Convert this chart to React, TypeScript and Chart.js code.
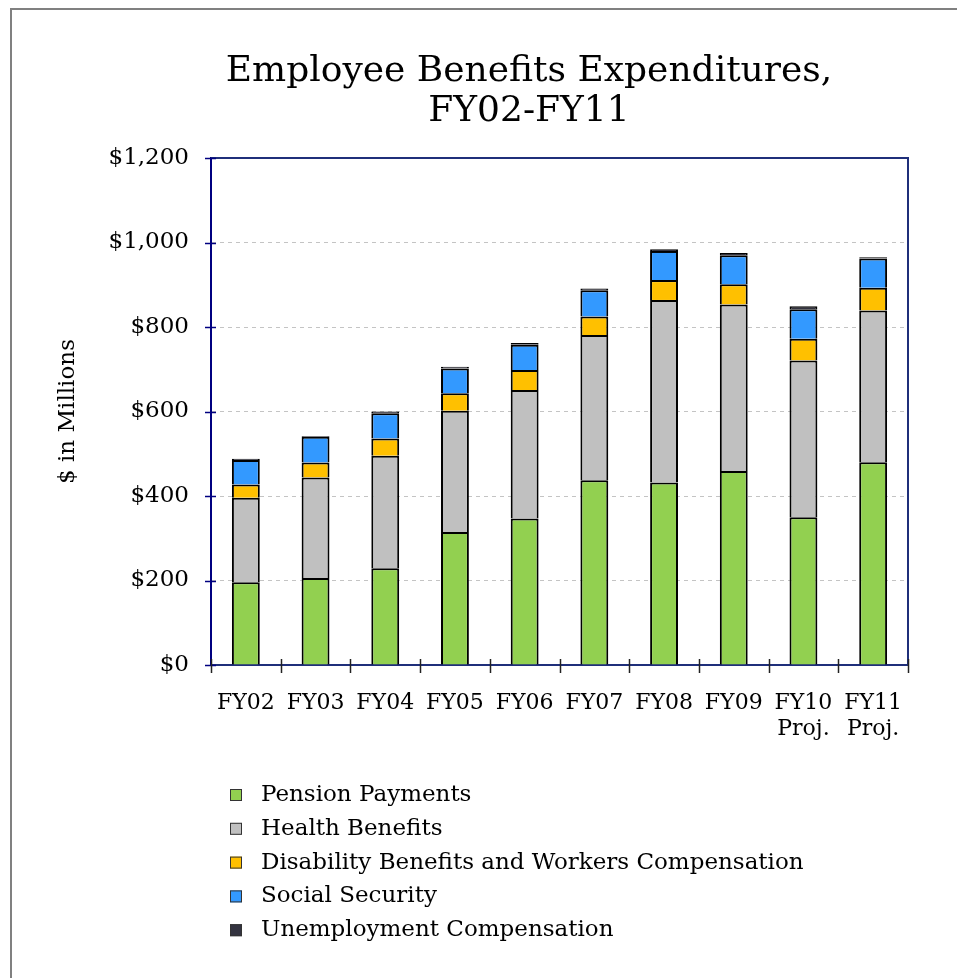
import React, { useEffect, useRef } from 'react';
import { Chart, registerables } from 'chart.js';

Chart.register(...registerables);

const categories: (string | string[])[] = ['FY02', 'FY03', 'FY04', 'FY05', 'FY06', 'FY07', 'FY08', 'FY09', ['FY10', 'Proj.'], ['FY11', 'Proj.']];
const pension = [196, 206, 229, 315, 347, 437, 432, 459, 350, 480];
const health = [200, 238, 266, 287, 304, 344, 432, 394, 371, 359];
const disability = [31, 35, 41, 41, 47, 44, 47, 48, 51, 54];
const socialSecurity = [58, 61, 60, 59, 60, 62, 69, 69, 70, 69];
const unemployment = [3, 2, 4, 4, 4, 4, 4, 5, 7, 3];

const seriesNames = ['Pension Payments', 'Health Benefits', 'Disability Benefits and Workers Compensation', 'Social Security', 'Unemployment Compensation'];
const seriesColors = ['#92D050', '#C0C0C0', '#FFC000', '#3399FF', '#333340'];
const titleLines = ['Employee Benefits Expenditures,', 'FY02-FY11'];
const yTitle = '$ in Millions';

const FONT = '"DejaVu Serif", serif';

const decor = {
  id: 'decor',
  beforeDraw(chart: any) {
    const { ctx, width, height } = chart;
    ctx.save();
    ctx.fillStyle = '#ffffff';
    ctx.fillRect(0, 0, width, height);
    ctx.strokeStyle = '#808080';
    ctx.lineWidth = 2;
    ctx.strokeRect(11, 9, width + 50, height + 50);
    ctx.restore();
  },
  afterDraw(chart: any) {
    const { ctx, chartArea, scales } = chart;
    const { left, right, top, bottom } = chartArea;
    const x = scales.x;
    const y = scales.y;
    ctx.save();
    // plot frame top/right
    ctx.strokeStyle = '#1F2F7A';
    ctx.lineWidth = 2;
    ctx.beginPath();
    ctx.moveTo(left, top);
    ctx.lineTo(right, top);
    ctx.lineTo(right, bottom);
    ctx.stroke();
    // y tick marks crossing
    ctx.strokeStyle = '#000080';
    ctx.lineWidth = 1.5;
    y.ticks.forEach((t: any) => {
      const py = Math.round(y.getPixelForValue(t.value)) + 0.5;
      ctx.beginPath();
      ctx.moveTo(left - 6, py);
      ctx.lineTo(left + 5, py);
      ctx.stroke();
    });
    // x tick marks at category boundaries
    ctx.strokeStyle = '#222';
    for (let i = 0; i <= categories.length; i++) {
      const px = Math.round(x.getPixelForValue(i - 0.5)) + 0.5;
      ctx.beginPath();
      ctx.moveTo(px, bottom - 6);
      ctx.lineTo(px, bottom + 8);
      ctx.stroke();
    }
    // title
    ctx.fillStyle = '#000';
    ctx.font = `36px ${FONT}`;
    ctx.textAlign = 'center';
    ctx.textBaseline = 'middle';
    titleLines.forEach((line, i) => {
      ctx.fillText(line, 529, 72 + i * 40);
    });
    // legend
    ctx.font = `23px ${FONT}`;
    ctx.textAlign = 'left';
    chart.data.datasets.forEach((ds: any, i: number) => {
      const cy = 795 + i * 33.8;
      ctx.fillStyle = ds.backgroundColor;
      ctx.fillRect(230, cy - 6, 12, 12);
      ctx.strokeStyle = '#333';
      ctx.lineWidth = 1;
      ctx.strokeRect(230.5, cy - 5.5, 11, 11);
      ctx.fillStyle = '#000';
      ctx.fillText(ds.label, 261, cy);
    });
    ctx.restore();
  },
};

export default function App() {
  const ref = useRef<HTMLCanvasElement>(null);
  useEffect(() => {
    if (!ref.current) return;
    const values = [pension, health, disability, socialSecurity, unemployment];
    const chart = new Chart(ref.current, {
      type: 'bar',
      data: {
        labels: categories,
        datasets: values.map((v, i) => ({
          label: seriesNames[i],
          data: v,
          backgroundColor: seriesColors[i],
          borderColor: '#000',
          borderWidth: 2,
          barPercentage: 0.4,
          categoryPercentage: 1,
        })),
      },
      options: {
        responsive: false,
        animation: false,
        devicePixelRatio: 1,
        layout: { padding: { left: 0, right: 49, top: 158, bottom: 233 } },
        plugins: {
          legend: { display: false },
          title: { display: false },
          tooltip: { enabled: false },
        },
        scales: {
          x: {
            stacked: true,
            grid: { display: false, drawTicks: false },
            border: { display: true, color: '#1F2F7A', width: 2 },
            ticks: {
              color: '#000',
              font: { family: FONT, size: 22 },
              padding: 25,
              maxRotation: 0,
              autoSkip: false,
            },
            afterFit: (s: any) => { s.height = 80; },
          },
          y: {
            stacked: true,
            min: 0,
            max: 1200,
            grid: {
              drawTicks: false,
              color: (c: any) => (c.tick && (c.tick.value === 0 || c.tick.value === 1200) ? 'rgba(0,0,0,0)' : '#C4C4C4'),
              lineWidth: 1,
            },
            border: { display: true, color: '#000080', width: 2, dash: [4, 4] },
            ticks: {
              stepSize: 200,
              color: '#000',
              font: { family: FONT, size: 23 },
              padding: 22,
              callback: (v: any) => '$' + Number(v).toLocaleString('en-US'),
            },
            title: {
              display: true,
              text: yTitle,
              color: '#000',
              font: { family: FONT, size: 23 },
              padding: { top: 54, bottom: 0 },
            },
            afterFit: (s: any) => { s.width = 211; },
          },
        },
      },
      plugins: [decor],
    });
    return () => chart.destroy();
  }, []);
  return (
    <div style={{ position: 'absolute', left: 0, top: 0, width: 957, height: 978 }}>
      <canvas ref={ref} width={957} height={978} />
    </div>
  );
}
